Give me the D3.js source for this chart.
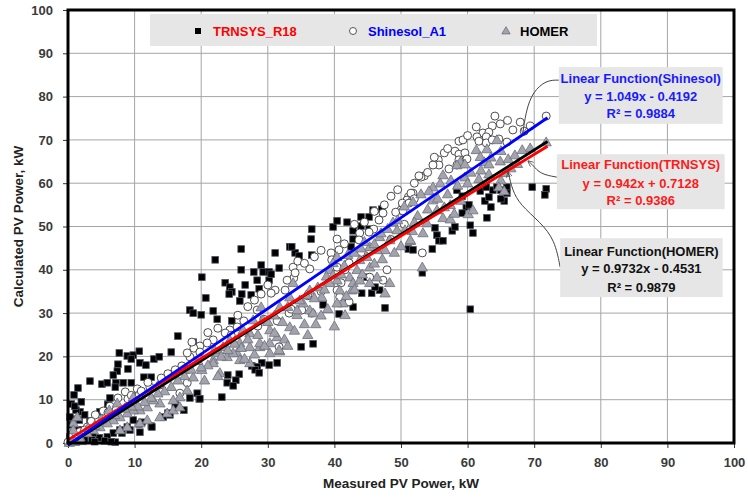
<!DOCTYPE html>
<html><head><meta charset="utf-8">
<script src="https://cdn.jsdelivr.net/npm/d3@7"></script>
<style>
html,body{margin:0;padding:0;background:#fff;}
svg{display:block;}
text{font-family:"Liberation Sans",Arial,sans-serif;font-weight:bold;}
</style></head>
<body>
<svg id="chart" width="748" height="497"></svg>
<script>
// ---------- DATA ----------
const xTicks = [0,10,20,30,40,50,60,70,80,90,100];
const yTicks = [0,10,20,30,40,50,60,70,80,90,100];
const seriesNames = ["TRNSYS_R18","Shinesol_A1","HOMER"];
const fitNames = ["Linear Function(Shinesol)","Linear Function(TRNSYS)","Linear Function(HOMER)"];
const fitEquations = ["y = 1.049x - 0.4192","y = 0.942x + 0.7128","y = 0.9732x - 0.4531"];
const fitR2 = ["R² = 0.9884","R² = 0.9386","R² = 0.9879"];
const fitSlopes = [1.049, 0.942, 0.9732];
const fitIntercepts = [-0.4192, 0.7128, -0.4531];
const fitXRange = [0, 72];

const trnsysPts = [
[16.5,24.7],[7.7,20.8],[8.9,20.1],[9.8,20.3],[10.7,21.2],[9.5,19.4],[10.8,18.5],[11.7,18.0],[12.9,19.4],[13.7,19.9],
[15.5,21.0],[7.5,18.2],[7.4,16.6],[9.0,17.1],[6.8,15.7],[11.4,15.2],[12.5,15.2],[3.3,14.3],[5.1,13.6],[5.9,13.9],
[7.2,13.9],[8.3,13.9],[9.5,13.9],[19.4,11.5],[19.7,10.2],[17.4,7.6],[16.1,8.8],[15.0,6.9],[14.3,6.0],[12.5,3.9],
[10.7,4.4],[9.8,5.3],[8.9,3.7],[7.8,3.0],[6.8,2.3],[5.9,1.4],[4.7,1.2],[3.8,2.3],[3.3,5.1],[1.7,5.3],
[1.4,3.0],[0.8,0.7],[6.0,9.0],[6.3,10.4],[26.0,44.8],[22.1,42.3],[26.0,40.0],[20.1,38.3],[23.6,37.0],[24.3,36.0],
[24.6,34.9],[24.2,34.4],[20.7,33.5],[26.1,34.4],[27.5,34.2],[26.6,36.5],[28.7,35.6],[28.4,37.6],[27.9,39.5],[29.0,41.1],
[29.3,39.5],[30.2,37.6],[30.2,39.5],[31.7,40.4],[31.1,43.9],[33.3,45.3],[34.1,43.9],[25.8,32.8],[18.3,30.7],[18.8,30.0],
[20.0,29.6],[21.8,30.5],[22.4,28.6],[24.6,28.2],[18.8,23.3],[27.6,17.8],[29.1,18.5],[30.2,18.0],[31.4,18.5],[28.4,17.6],
[36.6,49.4],[36.5,47.1],[39.8,49.9],[40.4,51.3],[41.9,51.0],[44.0,52.2],[44.0,50.1],[45.2,52.2],[45.8,53.8],[47.1,54.0],
[45.2,49.4],[42.8,49.0],[42.8,47.1],[42.5,45.3],[33.6,45.3],[34.7,43.2],[36.6,43.4],[30.5,39.0],[51.1,44.8],[51.8,44.6],
[44.1,34.6],[45.6,34.6],[47.6,31.2],[38.3,31.9],[40.7,29.8],[42.8,31.4],[46.8,35.3],[44.9,38.3],[46.1,36.0],[58.4,58.4],
[59.2,57.0],[59.8,54.5],[59.2,53.1],[60.2,55.0],[60.4,50.3],[60.8,48.5],[62.9,52.0],[63.5,54.5],[62.6,55.9],[63.2,56.8],
[61.9,58.2],[62.8,59.1],[63.8,58.4],[64.4,59.1],[65.0,58.4],[65.9,59.1],[65.5,55.9],[65.0,56.4],[65.9,57.7],[69.7,59.1],
[71.8,58.7],[71.6,57.3],[55.1,49.7],[55.4,48.0],[57.7,49.0],[58.1,49.9],[55.7,46.7],[56.3,46.7],[54.7,44.8],[53.2,39.3],
[60.4,30.9],[35.0,22.2],[36.8,22.9],[28.1,16.9],[28.7,16.2],[24.0,15.7],[25.7,15.9],[25.2,14.5],[23.9,13.9],[24.8,13.2],
[23.1,10.6],[19.8,10.2],[0.8,5.5],[1.8,7.2],[0.9,2.3],[2.1,3.0],[4.8,7.2],[6.0,8.8],[3.6,0.7],[7.1,0.2],
[8.1,2.3],[9.3,3.0],[11.1,4.8],[12.6,3.7],[10.8,2.5],[15.3,6.5],[18.3,10.4],[7.1,12.9],[0.3,1.4],[0.6,4.2],
[1.2,7.6],[0.9,11.1],[1.5,12.7],[0.5,9.0],[1.0,8.5],[2.0,9.5],[2.5,6.5],[0.3,6.0],[1.5,1.5],[2.5,0.8],
[4.0,0.3],[5.5,0.5],[6.5,0.3]
];

const shinesolPts = [
[64.1,75.5],[64.9,73.7],[63.7,73.2],[61.3,73.0],[62.3,71.6],[63.2,71.8],[62.8,70.7],[61.4,70.7],[61.7,69.7],[62.8,69.3],
[63.7,70.0],[64.7,70.2],[65.9,69.5],[58.7,69.7],[59.3,70.0],[58.1,67.4],[56.5,67.0],[58.7,66.7],[59.6,67.0],[59.9,65.6],
[58.7,65.4],[55.6,65.4],[55.7,64.2],[54.8,64.2],[57.2,63.3],[58.4,64.2],[53.5,61.7],[53.0,61.4],[51.8,57.7],[51.1,56.8],
[50.9,56.1],[50.3,55.0],[50.0,53.8],[51.7,56.1],[53.2,43.9],[71.8,75.5],[69.4,73.2],[67.9,74.1],[66.8,72.3],[52.7,61.7],
[51.5,57.7],[52.0,56.4],[50.2,55.4],[51.2,55.4],[49.2,53.3],[50.3,53.6],[47.3,53.1],[46.7,51.5],[45.9,49.4],[45.2,48.7],
[43.8,48.5],[43.7,46.9],[40.4,47.1],[40.7,44.6],[39.5,43.9],[39.6,42.3],[42.2,41.6],[40.4,40.6],[41.6,40.0],[36.3,40.2],
[33.8,40.6],[33.9,38.1],[31.1,35.3],[30.5,34.6],[32.6,35.3],[33.2,30.0],[35.1,30.7],[36.6,30.0],[40.4,35.3],[40.8,33.7],
[42.2,32.6],[47.3,37.6],[47.9,40.0],[45.3,38.3],[41.0,37.0],[34.1,39.3],[32.9,37.6],[29.0,34.4],[33.5,30.9],[31.4,28.2],
[29.4,28.6],[28.4,30.7],[26.4,28.2],[25.4,26.8],[24.3,26.1],[23.6,25.4],[24.5,24.9],[21.8,23.8],[20.9,23.1],[19.8,22.4],
[18.9,21.9],[19.8,21.0],[18.3,19.9],[17.1,17.8],[31.7,22.2],[18.6,23.3],[17.9,20.8],[16.1,16.9],[17.9,16.9],[13.8,13.4],
[12.3,12.9],[10.4,12.5],[10.7,11.1],[8.6,11.8],[7.5,10.4],[9.0,10.2],[6.3,8.5],[7.2,7.6],[5.3,7.4],[4.1,6.5],
[2.9,3.7],[0.3,0.7],[17.9,13.9],[16.8,11.5],[0.0,0.2],[0.5,1.5],[1.2,2.0],[1.8,2.6],[2.5,3.0],
[34.5,42.0],[35.5,41.5],[37.0,43.0],[38.0,44.5],[41.5,46.0],[43.0,50.5],[44.5,51.0],[46.0,53.5],[47.5,55.0],[48.5,57.0],
[49.5,58.5],[52.0,60.0],[54.0,62.5],[55.0,66.0],[57.0,68.0],[60.0,71.0],[66.0,74.5],[68.5,72.0],[30.0,36.5],[28.0,33.0],
[27.0,31.5],[25.5,29.5],[22.5,26.5],[21.0,25.5],[15.0,16.0],[14.0,15.0],[12.0,14.0],[11.0,12.0],[9.5,11.0],[6.0,7.0],
[3.5,5.0],[38.0,35.0],[36.0,34.0],[44.0,44.0],[48.5,47.0],[50.5,50.5],[28.5,27.0],[23.5,21.5]
];

const homerPts = [
[64.4,70.0],[61.3,67.7],[62.9,67.9],[61.9,66.1],[62.5,64.9],[63.2,64.4],[64.9,65.1],[66.1,65.6],[58.9,64.9],[58.4,64.2],
[59.6,64.4],[56.3,61.9],[57.5,60.7],[59.6,61.4],[61.7,61.0],[63.2,62.1],[65.0,60.7],[65.6,62.4],[64.7,59.1],[65.5,58.2],
[54.8,59.1],[55.9,60.0],[54.2,58.2],[53.0,57.5],[51.8,55.7],[50.5,54.7],[56.5,54.5],[57.4,55.0],[54.8,56.1],[55.4,53.8],
[56.3,52.0],[57.4,51.7],[60.1,52.9],[60.8,53.8],[53.9,50.8],[53.3,48.5],[51.7,49.0],[51.4,46.7],[50.6,49.2],[53.2,40.6],
[69.4,68.1],[71.8,69.5],[49.4,49.2],[51.4,46.9],[48.3,46.9],[46.8,47.6],[47.6,44.6],[46.4,44.6],[45.3,45.3],[44.9,43.0],
[45.3,40.6],[43.8,42.3],[43.4,40.0],[42.3,38.3],[40.4,43.0],[39.8,41.6],[39.3,40.0],[40.4,37.6],[39.3,37.0],[40.8,35.3],
[41.3,32.3],[40.4,32.3],[41.6,29.6],[42.6,35.3],[42.8,37.0],[43.8,37.6],[45.3,37.0],[46.4,38.3],[47.6,34.6],[48.3,37.0],
[38.1,33.7],[36.3,35.3],[35.3,32.3],[36.3,30.7],[33.8,37.0],[33.3,33.7],[31.8,31.4],[36.8,30.0],[34.4,29.6],[33.3,26.8],
[34.4,30.7],[31.4,24.5],[30.3,26.1],[29.3,28.4],[29.0,31.4],[27.8,28.4],[27.3,25.4],[26.3,26.1],[27.3,22.2],[25.8,23.1],
[25.4,20.8],[24.3,23.8],[23.3,22.2],[23.9,19.9],[22.4,20.8],[21.8,19.2],[25.8,19.2],[27.3,18.5],[30.3,20.8],[31.8,21.2],
[28.8,22.2],[20.1,16.9],[18.8,15.2],[17.9,12.2],[16.8,10.6],[15.8,9.9],[13.8,9.2],[12.8,9.9],[11.9,8.3],[10.8,7.6],
[9.8,7.6],[8.9,6.9],[7.8,6.0],[6.8,5.3],[5.9,4.6],[4.8,3.7],[3.8,3.0],[2.9,2.3],[1.8,1.4],[0.8,0.7],
[10.8,4.6],[11.9,5.3],[8.9,3.7],[7.8,3.0],[14.9,6.9],[13.8,6.0],[15.8,7.6],[16.8,8.3],[9.8,10.6],[7.4,9.2],
[6.2,7.6],[0.8,4.6],[0.8,3.0],[1.4,6.0],[31.7,21.5],[22.8,16.2],[21.8,18.5],[24.8,20.8],[28.8,23.1],[30.3,23.1],
[0.2,0.1],[1.0,0.3],[2.0,0.5],[67.1,66.5],[68.2,67.7],
[31.0,29.5],[32.2,28.0],[33.0,31.5],[34.8,33.0],[35.8,34.2],[37.0,33.5],[37.5,36.0],[38.5,35.5],[38.8,38.5],[39.8,38.8],
[41.0,39.0],[41.5,41.0],[42.0,43.5],[43.0,44.0],[44.0,45.0],[44.5,46.5],[46.0,46.0],[47.0,48.5],[48.0,49.5],[48.8,51.0],
[49.5,51.5],[47.2,42.5],[46.0,41.5],[44.2,39.0],[43.0,35.5],[41.8,34.0],[39.0,31.0],[38.0,29.5],[37.2,27.5],[35.5,27.5],
[34.0,26.0],[32.5,24.0],[31.0,25.5],[30.0,28.0],[28.5,25.0],[27.0,24.0],[26.0,22.0],[25.0,23.0],[24.0,21.5],[23.0,20.0],
[22.0,21.5],[21.0,18.0],[20.0,17.5],[19.5,19.0],[18.5,17.0],[17.5,15.5],[16.5,14.5],[15.5,13.0],[14.5,12.0],[13.5,11.5],
[12.5,10.5],[11.5,9.5],[10.5,8.5],[9.5,8.5],[8.5,8.0],[7.0,6.5],[5.0,5.5],[4.0,4.0],[3.0,3.5],[20.5,14.5],
[22.5,15.5],[26.5,19.5],[28.0,20.5],[29.5,22.5],[33.0,22.5],[36.0,25.0],[40.0,27.0],[50.0,45.5],[52.5,52.5],[54.0,54.0],
[55.5,56.5],[57.0,57.5],[58.5,59.5],[60.0,60.0],[60.5,62.5],[62.0,63.0],[63.5,66.0],[66.5,63.5],[67.5,64.5],[65.0,67.5],
[59.0,56.0],[58.0,53.0],[52.0,51.0],[49.0,44.0]
];

// annotation placement in data units
const boxX = [[73.7,98.3],[73.4,98.6],[73.9,98.3]];
const boxY = [[86.8,73.7],[66.7,54.0],[47.3,33.7]];
const boxLineY = [[84.3,80.1,76.0],[64.4,60.0,56.1],[44.3,40.2,36.0]];
const leaderShinesol = [[73.7,83.8],[71.8,83.8],[69.8,81.1],[68.8,76.9],[68.3,71.6]];
const leaderTrnsys = [[73.4,61.4],[70.9,62.1],[69.8,64.2],[69.1,65.1]];
const leaderHomer = [[73.9,40.6],[73.1,46.9],[70.9,51.0],[67.9,55.0],[66.7,58.4],[66.1,62.6]];

// ---------- CHART ----------
const svg = d3.select("#chart");
const x = d3.scaleLinear().domain([0,100]).range([68,734]);
const y = d3.scaleLinear().domain([0,100]).range([443,10]);

// gridlines
const grid = svg.append("g");
grid.selectAll("line.gx").data(xTicks.slice(1,-1)).enter().append("line")
  .attr("x1",d=>x(d)).attr("x2",d=>x(d)).attr("y1",y(0)).attr("y2",y(100))
  .attr("stroke","#a6a6a6").attr("stroke-width",1);
grid.selectAll("line.gy").data(yTicks.slice(1,-1)).enter().append("line")
  .attr("x1",x(0)).attr("x2",x(100)).attr("y1",d=>y(d)).attr("y2",d=>y(d))
  .attr("stroke","#a6a6a6").attr("stroke-width",1);

// legend box
const lg = svg.append("g");
lg.append("rect").attr("x",150).attr("y",14).attr("width",447).attr("height",32).attr("fill","#e6e6e6");

// axes
const xAxis = svg.append("g").attr("transform",`translate(0,${y(0)})`)
  .call(d3.axisBottom(x).tickValues(xTicks).tickSize(5).tickSizeOuter(0).tickPadding(10));
const yAxis = svg.append("g").attr("transform",`translate(${x(0)},0)`)
  .call(d3.axisLeft(y).tickValues(yTicks).tickSize(5).tickSizeOuter(0).tickPadding(10));
[xAxis,yAxis].forEach(a=>{
  a.select(".domain").remove();
  a.selectAll(".tick line").attr("stroke","#333").attr("stroke-width",1);
  a.selectAll(".tick text").attr("fill","#3a3a3a").style("font-size","13px").style("font-weight","bold")
   .style("font-family","'Liberation Sans',Arial,sans-serif");
});

// markers
const pts = svg.append("g");
pts.selectAll("rect.t").data(trnsysPts).enter().append("rect")
  .attr("x",d=>x(d[0])-3.3).attr("y",d=>y(d[1])-3.3).attr("width",6.6).attr("height",6.6)
  .attr("fill","#000").attr("stroke","#4a5060").attr("stroke-width",0.8);
pts.selectAll("circle.s").data(shinesolPts).enter().append("circle")
  .attr("cx",d=>x(d[0])).attr("cy",d=>y(d[1])).attr("r",4)
  .attr("fill","#fff").attr("stroke","#3a3a3a").attr("stroke-width",0.9);
const tri = d3.symbol().type(d3.symbolTriangle).size(46);
pts.selectAll("path.h").data(homerPts).enter().append("path")
  .attr("d",tri).attr("transform",d=>`translate(${x(d[0])},${y(d[1])+0.8})`)
  .attr("fill","#a3a3ab").attr("stroke","#6c6f7e").attr("stroke-width",0.8);

// trendlines
const fitColors = ["#0000ff","#ff0000","#000000"];
const order = [2,1,0];
order.forEach(i=>{
  svg.append("line")
    .attr("x1",x(fitXRange[0])).attr("y1",y(fitSlopes[i]*fitXRange[0]+fitIntercepts[i]))
    .attr("x2",x(fitXRange[1])).attr("y2",y(fitSlopes[i]*fitXRange[1]+fitIntercepts[i]))
    .attr("stroke",fitColors[i]).attr("stroke-width",2.8);
});

// frame
svg.append("rect").attr("x",x(0)).attr("y",y(100)).attr("width",x(100)-x(0)).attr("height",y(0)-y(100))
  .attr("fill","none").attr("stroke","#000").attr("stroke-width",3);

// legend content
const legX = [198,353,506];
const legTX = [213,368,520];
const legColors = ["#ff0000","#0000ff","#000000"];
const legY = 31;
lg.append("rect").attr("x",legX[0]-3).attr("y",legY-3).attr("width",6).attr("height",6).attr("fill","#000");
lg.append("circle").attr("cx",legX[1]).attr("cy",legY).attr("r",3.5).attr("fill","#fff").attr("stroke","#444").attr("stroke-width",0.9);
lg.append("path").attr("d",d3.symbol().type(d3.symbolTriangle).size(30)).attr("transform",`translate(${legX[2]},${legY+0.5})`)
  .attr("fill","#a3a3ab").attr("stroke","#6c6f7e").attr("stroke-width",0.8);
seriesNames.forEach((n,i)=>{
  lg.append("text").attr("x",legTX[i]).attr("y",legY).attr("dy","0.35em")
    .attr("fill",legColors[i]).style("font-size","13px").text(n);
});

// leader lines
const lineGen = d3.line().x(d=>x(d[0])).y(d=>y(d[1])).curve(d3.curveBasis);
const defs = svg.append("defs");
defs.append("marker").attr("id","arr").attr("viewBox","0 0 10 10").attr("refX",9).attr("refY",5)
  .attr("markerWidth",6).attr("markerHeight",6).attr("orient","auto")
  .append("path").attr("d","M0,0 L10,5 L0,10").attr("fill","none").attr("stroke","#444").attr("stroke-width",1.2);
[leaderShinesol,leaderTrnsys,leaderHomer].forEach(l=>{
  svg.append("path").attr("d",lineGen(l)).attr("fill","none").attr("stroke","#444").attr("stroke-width",1)
    .attr("marker-end","url(#arr)");
});

// annotation boxes
const annColors = ["#1a1aff","#ff1a1a","#111111"];
fitNames.forEach((n,i)=>{
  const g = svg.append("g");
  g.append("rect").attr("x",x(boxX[i][0])).attr("y",y(boxY[i][0]))
    .attr("width",x(boxX[i][1])-x(boxX[i][0])).attr("height",y(boxY[i][1])-y(boxY[i][0]))
    .attr("fill","#e6e6e6");
  const cx = (x(boxX[i][0])+x(boxX[i][1]))/2;
  [n,fitEquations[i],fitR2[i]].forEach((t,j)=>{
    g.append("text").attr("x",cx).attr("y",y(boxLineY[i][j])).attr("dy","0.35em")
      .attr("text-anchor","middle").attr("fill",annColors[i]).style("font-size","13px").text(t);
  });
});

// axis titles
svg.append("text").attr("x",(x(0)+x(100))/2).attr("y",483).attr("dy","0.35em").attr("text-anchor","middle")
  .attr("fill","#222").style("font-size","13.5px").text("Measured PV Power, kW");
svg.append("text").attr("transform",`translate(18,${(y(0)+y(100))/2}) rotate(-90)`).attr("dy","0.35em")
  .attr("text-anchor","middle").attr("fill","#222").style("font-size","13.5px").text("Calculated PV Power, kW");
</script>
</body></html>
